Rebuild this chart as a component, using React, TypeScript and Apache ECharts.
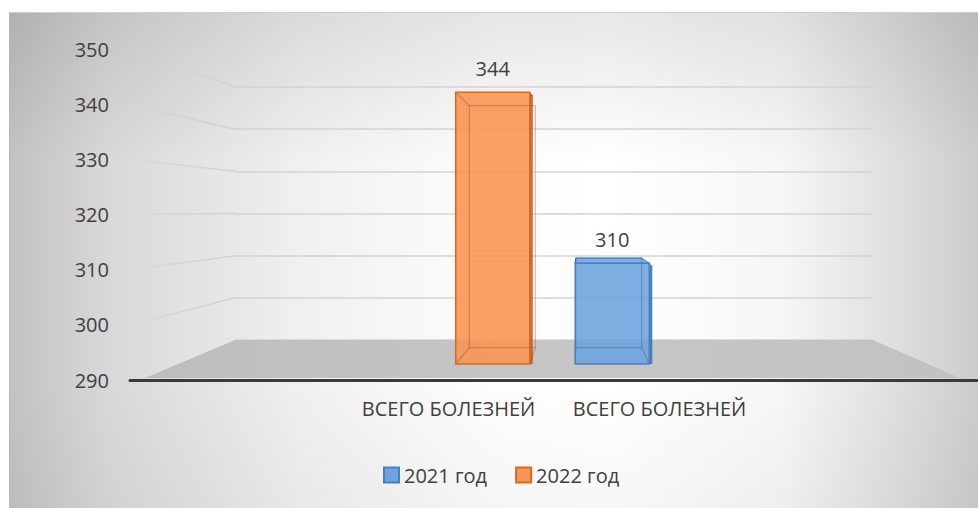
import React, { useEffect, useRef } from "react";
import * as echarts from "echarts";

// ---- data ----
const categories = ["ВСЕГО БОЛЕЗНЕЙ", "ВСЕГО БОЛЕЗНЕЙ"];
const seriesNames = ["2021 год", "2022 год"];
const values2021: (number | null)[] = [null, 310];
const values2022: (number | null)[] = [344, null];
const yTicks = [290, 300, 310, 320, 330, 340, 350];
const Y_MIN = 290;
const Y_MAX = 350;
const Y_STEP = 10;

// ---- styling ----
const FONT = "'Open Sans', 'Noto Sans', sans-serif";
const TEXT = "#404040";
const BLUE = { fill: "rgba(108,164,222,0.88)", edge: "#4a7ec0", side: "#3f72b2", name: seriesNames[0] };
const ORANGE = { fill: "rgba(247,150,84,0.9)", edge: "#d9691f", side: "#c45d18", name: seriesNames[1] };
const VP = [580, 215];
const K = 0.89;

function makeRender(c: { fill: string; edge: string; side: string }) {
  return (params: any, api: any) => {
    const v = api.value(1);
    if (v == null || isNaN(v)) return null;
    const top = api.coord([api.value(0), v]);
    const base = api.coord([api.value(0), Y_MIN]);
    const bw = api.size([1, 0])[0] * 0.62;
    const x0 = top[0] - bw / 2;
    const x1 = top[0] + bw / 2;
    const y0 = top[1];
    const y1 = base[1];
    const p = (x: number, y: number) => [VP[0] + (x - VP[0]) * K, VP[1] + (y - VP[1]) * K];
    const b00 = p(x0, y0), b10 = p(x1, y0), b11 = p(x1, y1), b01 = p(x0, y1);
    const innerC = c === BLUE ? "rgba(40,80,140,0.35)" : "rgba(150,70,20,0.35)";
    const children: any[] = [];
    children.push({
      type: "polygon",
      shape: { points: [[x1, y0], [x1 + 3, y0 + 3], [x1 + 3, y1], [x1, y1]] },
      style: { fill: c.side, opacity: 0.9 },
    });
    if (b00[1] < y0) {
      children.push({
        type: "polygon",
        shape: { points: [[x0, y0], [x1, y0], b10, b00] },
        style: { fill: c.fill, stroke: c.edge, lineWidth: 1 },
      });
    }
    children.push({
      type: "rect",
      shape: { x: x0, y: y0, width: bw, height: y1 - y0 },
      style: { fill: c.fill },
    });
    children.push({
      type: "polyline",
      shape: { points: [b00, b10, b11, b01, b00] },
      style: { fill: "none", stroke: innerC, lineWidth: 1.2 },
    });
    children.push({ type: "line", shape: { x1: x0, y1: y0, x2: b00[0], y2: b00[1] }, style: { stroke: innerC, lineWidth: 1.2 } });
    children.push({ type: "line", shape: { x1: x0, y1: y1, x2: b01[0], y2: b01[1] }, style: { stroke: innerC, lineWidth: 1.2 } });
    children.push({ type: "line", shape: { x1: x1, y1: y1, x2: b11[0], y2: b11[1] }, style: { stroke: innerC, lineWidth: 1.2 } });
    children.push({
      type: "rect",
      shape: { x: x0, y: y0, width: bw, height: y1 - y0 },
      style: { fill: "none", stroke: c.edge, lineWidth: 1.5 },
    });
    children.push({
      type: "text",
      style: {
        text: String(v),
        x: top[0],
        y: y0 - 24,
        align: "center",
        verticalAlign: "middle",
        fontSize: 20,
        fontFamily: FONT,
        fill: TEXT,
      },
    });
    return { type: "group", children };
  };
}

const toPairs = (arr: (number | null)[]) =>
  arr.map((v, i) => (v == null ? null : [i, v])).filter((d) => d != null);

export default function App() {
  const ref = useRef<HTMLDivElement>(null);
  useEffect(() => {
    document.body.style.margin = "0";
    if (!ref.current) return;
    const chart = echarts.init(ref.current, undefined, { renderer: "svg" });
    chart.setOption({
      animation: false,
      backgroundColor: "transparent",
      textStyle: { fontFamily: FONT },
      grid: [
        { left: 130, top: 49, width: 847, height: 331 },
        { left: 433, top: 62, width: 239, height: 302 },
        { left: 343, top: 49, width: 422, height: 331 },
        { left: 235, top: 87, width: 638, height: 253 },
      ],
      xAxis: [
        {
          gridIndex: 0,
          type: "category",
          data: categories,
          axisLine: { show: true, lineStyle: { color: "#3a3a3a", width: 3 } },
          axisTick: { show: false },
          axisLabel: { show: false },
        },
        { gridIndex: 1, type: "category", data: categories, show: false },
        {
          gridIndex: 2,
          type: "category",
          data: categories,
          axisLine: { show: false },
          axisTick: { show: false },
          axisLabel: { interval: 0, hideOverlap: false, fontSize: 20, color: TEXT, margin: 18, fontFamily: FONT },
        },
        { gridIndex: 3, type: "value", show: false },
      ],
      yAxis: [
        {
          gridIndex: 0,
          type: "value",
          min: Y_MIN,
          max: Y_MAX,
          interval: Y_STEP,
          axisLine: { show: false },
          axisTick: { show: false },
          splitLine: { show: false },
          axisLabel: { fontSize: 20, color: TEXT, margin: 21, fontFamily: FONT },
        },
        { gridIndex: 1, type: "value", min: Y_MIN, max: Y_MAX, show: false },
        { gridIndex: 2, type: "value", min: Y_MIN, max: Y_MAX, show: false },
        {
          gridIndex: 3,
          type: "value",
          min: Y_MIN,
          max: Y_MAX,
          interval: Y_STEP,
          axisLine: { show: false },
          axisTick: { show: false },
          axisLabel: { show: false },
          splitLine: { show: true, lineStyle: { color: "#d3d3d3", width: 1.5 } },
        },
      ],
      legend: {
        left: 378,
        top: 460,
        icon: "rect",
        itemWidth: 15,
        itemHeight: 15,
        itemGap: 28,
        textStyle: { fontSize: 20, color: TEXT, fontFamily: FONT },
        data: [
          { name: seriesNames[0], itemStyle: { color: "#6ca4de", borderColor: "#4a7ec0", borderWidth: 2 } },
          { name: seriesNames[1], itemStyle: { color: "#f79654", borderColor: "#d9691f", borderWidth: 2 } },
        ],
      },
      series: [
        {
          name: seriesNames[0],
          type: "custom",
          xAxisIndex: 1,
          yAxisIndex: 1,
          renderItem: makeRender(BLUE),
          encode: { x: 0, y: 1 },
          data: toPairs(values2021),
          z: 5,
        },
        {
          name: seriesNames[1],
          type: "custom",
          xAxisIndex: 1,
          yAxisIndex: 1,
          renderItem: makeRender(ORANGE),
          encode: { x: 0, y: 1 },
          data: toPairs(values2022),
          z: 5,
        },
      ],
    });

    const FRONT_X = 130;
    const BACK_X = 235;
    const BACK_RIGHT = 873;
    const yFront = (v: number) => chart.convertToPixel({ yAxisIndex: 0 }, v) as number;
    const yBack = (v: number) => chart.convertToPixel({ yAxisIndex: 3 }, v) as number;
    const sideLines = yTicks
      .filter((v) => v > Y_MIN)
      .map((v) => ({
        type: "line",
        silent: true,
        z: 1,
        shape: { x1: FRONT_X, y1: yFront(v), x2: BACK_X, y2: yBack(v) },
        style: {
          stroke: new echarts.graphic.LinearGradient(0, 0, 1, 0, [
            { offset: 0, color: "rgba(210,210,210,0)" },
            { offset: 0.4, color: "rgba(210,210,210,0.8)" },
            { offset: 1, color: "rgba(210,210,210,1)" },
          ]),
          lineWidth: 1.5,
        },
      }));
    const fy = yFront(Y_MIN) - 2;
    const by = yBack(Y_MIN);
    chart.setOption({
      graphic: [
        ...sideLines,
        {
          type: "polygon",
          silent: true,
          z: 1,
          shape: { points: [[145, fy], [BACK_X, by], [BACK_RIGHT, by], [960, fy]] },
          style: {
            fill: new echarts.graphic.LinearGradient(0, 0, 1, 0, [
              { offset: 0, color: "#bdbdbd" },
              { offset: 0.5, color: "#c6c6c6" },
              { offset: 1, color: "#c2c2c2" },
            ]),
          },
        },
      ],
    });

    return () => chart.dispose();
  }, []);

  return (
    <div style={{ position: "relative", width: 978, height: 508, background: "#fff", overflow: "hidden" }}>
      <div
        style={{
          position: "absolute",
          left: 9,
          top: 12,
          right: 0,
          bottom: 0,
          borderTop: "1px solid #cfcfcf",
          borderLeft: "1px solid #b8b8b8",
          background:
            "linear-gradient(to bottom, rgba(0,0,0,0.09) 0%, rgba(0,0,0,0) 30%, rgba(0,0,0,0) 75%, rgba(0,0,0,0.03) 100%), " +
            "linear-gradient(to right, #c2c2c2 0%, #d8d8d8 10%, #f0f0f0 30%, #fdfdfd 50%, #ffffff 62%, #f6f6f6 80%, #e2e2e2 90%, #cccccc 100%)",
        }}
      />
      <div ref={ref} style={{ position: "absolute", left: 0, top: 0, width: 978, height: 508 }} />
    </div>
  );
}
